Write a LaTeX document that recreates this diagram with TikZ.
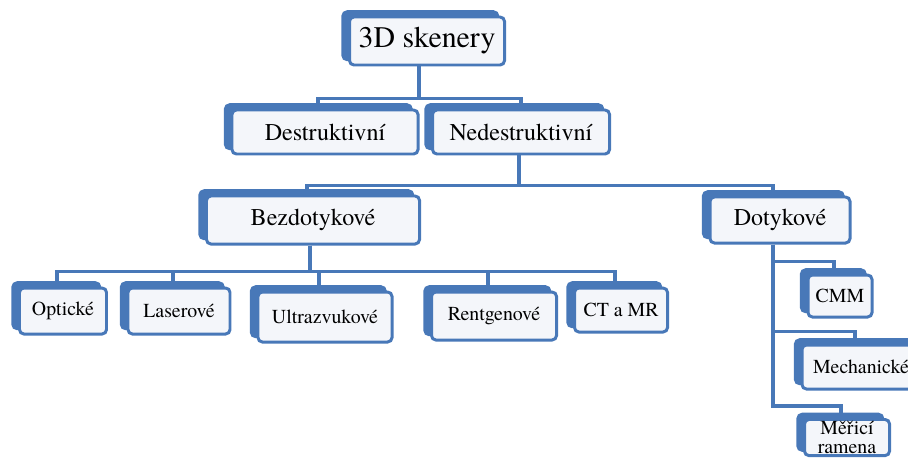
\documentclass[tikz,border=0pt]{standalone}
\usepackage{fontspec}
\setmainfont{texgyretermes}[Extension=.otf, UprightFont=*-regular, BoldFont=*-bold]
\usetikzlibrary{shadows, calc, backgrounds}

\definecolor{skblue}{RGB}{72,120,184}
\definecolor{skfill}{RGB}{244,246,250}

\tikzset{
  skbox/.style={rectangle, rounded corners=2.5pt, draw=skblue, line width=1.7pt,
    fill=skfill, inner sep=0pt, align=center,
    general shadow={fill=skblue, draw=skblue, line width=1.7pt,
      shadow xshift=-3.8pt, shadow yshift=3pt}},
  sz/.style 2 args={minimum width=#1*0.02cm, minimum height=#2*0.02cm},
  lvtop/.style={font=\fontsize{17}{20}\selectfont},
  lvmid/.style={font=\fontsize{13.7}{16}\selectfont},
  lvlow/.style={font=\fontsize{11.3}{10.8}\selectfont},
  conn/.style={draw=skblue, line width=1.8pt},
}

\begin{document}
\begin{tikzpicture}[x=0.02cm, y=-0.02cm]

\useasboundingbox (0,0) rectangle (908,460);
\clip (0,0) rectangle (908,460);

% level 1
\node[skbox, lvtop, sz={155}{48}] (top) at (427,41) {3D skenery};

% level 2
\node[skbox, lvmid, sz={186}{44}] (dest) at (325,132) {Destruktivní};
\node[skbox, lvmid, sz={177}{44}] (nedest) at (521,132) {Nedestruktivní};

% level 3
\node[skbox, lvmid, sz={213}{48}] (bez) at (313,220) {Bezdotykové};
\node[skbox, lvmid, sz={140}{46}] (dot) at (780,220) {Dotykové};

% bezdotykove
\node[skbox, lvlow, sz={87}{46}] (opt) at (63,311) {Optické};
\node[skbox, lvlow, sz={102}{46}] (las) at (179,311) {Laserové};
\node[skbox, lvlow, sz={134}{50}] (ultra) at (325,317) {Ultrazvukové};
\node[skbox, lvlow, sz={125}{48}] (rent) at (494,316) {Rentgenové};
\node[skbox, lvlow, sz={93}{44}] (ct) at (621,310) {CT a MR};

% dotykove
\node[skbox, lvlow, sz={64}{42}] (cmm) at (840,296) {CMM};
\node[skbox, lvlow, sz={118}{44}] (mech) at (861,367) {Mechanické};
\node[skbox, lvlow, sz={85}{10}, inner ysep=1pt, anchor=north] (mer) at (847,418) {Měřicí\\ramena};

\begin{scope}[on background layer]
\draw[conn] ($(top.south)+(-8,0)$) -- ++(0,32) -| ($(dest.north)+(-7,0)$);
\draw[conn] ($(top.south)+(-8,0)$) -- ++(0,32) -| ($(nedest.north)+(0,0)$);

\draw[conn] ($(nedest.south)+(-2,0)$) -- ++(0,30) -| ($(bez.north)+(-6,0)$);
\draw[conn] ($(nedest.south)+(-2,0)$) -- ++(0,30) -| ($(dot.north)+(-7,0)$);

\foreach \c in {opt,las,ultra,rent,ct}
  \draw[conn] ($(bez.south)+(-3,0)$) -- ++(0,26) -| ($(\c.north)+(-6,0)$);

\foreach \c in {cmm,mech,mer}
  \draw[conn] ($(dot.south)+(-7,0)$) |- ($(\c.north)+(-6,-12)$) -- ($(\c.north)+(-6,0)$);
\end{scope}
\end{tikzpicture}
\end{document}
